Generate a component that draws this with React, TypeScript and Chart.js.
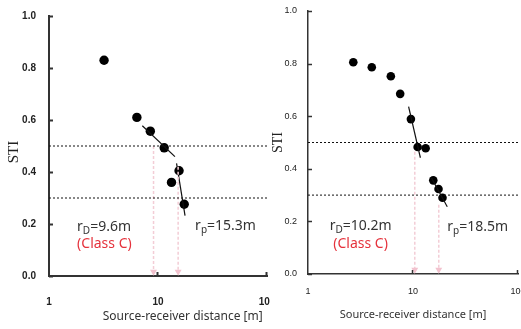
import React, { useEffect, useRef } from 'react';
import { Chart, registerables } from 'chart.js';

Chart.register(...registerables);

// ---------- data ----------
const yTickValues = [0, 0.2, 0.4, 0.6, 0.8, 1.0];
const xTickValues = [1, 10, 100];
const thresholds = [0.5, 0.3];

const leftDistance = [3.2, 6.4, 8.5, 11.4, 15.6, 13.3, 17.4];
const leftSTI = [0.83, 0.61, 0.557, 0.493, 0.405, 0.36, 0.276];
const leftFit1X = [7.18, 14.3];
const leftFit1Y = [0.578, 0.459];
const leftFit2X = [14.8, 17.7];
const leftFit2Y = [0.433, 0.232];
const leftArrowX = [9.1, 15.3];
const leftArrowTop = [0.5, 0.42];
const leftRD = '9.6';
const leftRP = '15.3';

const rightDistance = [2.7, 4.05, 6.15, 7.55, 9.55, 11.07, 13.2, 15.6, 17.5, 19.1];
const rightSTI = [0.805, 0.786, 0.752, 0.685, 0.589, 0.483, 0.478, 0.356, 0.323, 0.29];
const rightFit1X = [9.08, 11.76];
const rightFit1Y = [0.636, 0.442];
const rightFit2X = [15.0, 21.2];
const rightFit2Y = [0.365, 0.256];
const rightArrowX = [10.4, 17.6];
const rightArrowTop = [0.465, 0.263];
const rightRD = '10.2';
const rightRP = '18.5';

const xTitle = 'Source-receiver distance [m]';
const yTitle = 'STI';
const classLabel = '(Class C)';

// ---------- drawing helpers ----------
type Ann = { x: number; y: number };

function drawSubText(ctx: CanvasRenderingContext2D, px: number, py: number, sub: string, rest: string, size: number) {
  ctx.save();
  ctx.fillStyle = '#333';
  ctx.textBaseline = 'alphabetic';
  ctx.textAlign = 'left';
  ctx.font = `${size}px "Noto Sans"`;
  ctx.fillText('r', px, py);
  let x = px + ctx.measureText('r').width;
  ctx.font = `${Math.round(size * 0.72)}px "Noto Sans"`;
  ctx.fillText(sub, x, py + 3);
  x += ctx.measureText(sub).width;
  ctx.font = `${size}px "Noto Sans"`;
  ctx.fillText(rest, x, py);
  ctx.restore();
}

type PanelProps = {
  left: number;
  width: number;
  yAxisWidth: number;
  xAxisHeight: number;
  padTop: number;
  padRight: number;
  distance: number[];
  sti: number[];
  fits: { x: number[]; y: number[] }[];
  arrowX: number[];
  arrowTop: number[];
  rd: string;
  rp: string;
  rdPos: Ann;
  classPos: Ann;
  rpPos: Ann;
  pointRadius: number;
  bold: boolean;
  tickSize: number;
  yTickPad: number;
  xTickPad: number;
  borderWidth: number;
  customTitles: boolean;
  xTitleSize: number;
  xTitlePadBottom: number;
  leftTitleX?: number;
  leftTitleY?: number;
  leftYTitleX?: number;
  leftYTitleY?: number;
  yTitleSize: number;
  yTitlePad: number;
};

function Panel(p: PanelProps) {
  const ref = useRef<HTMLCanvasElement | null>(null);
  useEffect(() => {
    if (!ref.current) return;
    const datasets: any[] = [];
    thresholds.forEach((t) => {
      datasets.push({
        data: [{ x: 1, y: t }, { x: 100, y: t }],
        showLine: true,
        borderColor: '#111',
        borderWidth: 1,
        borderDash: [2, 2],
        pointRadius: 0,
      });
    });
    p.arrowX.forEach((ax, i) => {
      datasets.push({
        data: [{ x: ax, y: p.arrowTop[i] }, { x: ax, y: 0.016 }],
        showLine: true,
        borderColor: '#f3cdd6',
        borderWidth: 1.5,
        borderDash: [3, 2],
        pointRadius: [0, 4],
        pointStyle: 'triangle',
        rotation: 180,
        pointBackgroundColor: '#f2c2ce',
        pointBorderColor: '#f2c2ce',
        pointBorderWidth: 0,
        clip: false,
      });
    });
    p.fits.forEach((f) => {
      datasets.push({
        data: f.x.map((x, i) => ({ x, y: f.y[i] })),
        showLine: true,
        borderColor: '#111',
        borderWidth: 1.2,
        pointRadius: 0,
      });
    });
    datasets.push({
      data: p.distance.map((x, i) => ({ x, y: p.sti[i] })),
      showLine: false,
      backgroundColor: '#000',
      borderColor: '#000',
      borderWidth: 0,
      pointRadius: p.pointRadius,
    });

    const tickFont = { family: 'Liberation Sans', size: p.tickSize, weight: p.bold ? 'bold' : 'normal' };

    const overlay = {
      id: 'overlay',
      afterDraw(chart: any) {
        const ctx: CanvasRenderingContext2D = chart.ctx;
        const xs = chart.scales.x;
        const ys = chart.scales.y;
        const ca = chart.chartArea;
        ctx.save();
        ctx.strokeStyle = '#333';
        ctx.lineWidth = p.borderWidth;
        yTickValues.forEach((v) => {
          const py = Math.round(ys.getPixelForValue(v)) + 0.5;
          ctx.beginPath();
          ctx.moveTo(ca.left, py);
          ctx.lineTo(ca.left + 4, py);
          ctx.stroke();
        });
        xTickValues.slice(1).forEach((v) => {
          const px = Math.round(xs.getPixelForValue(v)) - 0.5;
          ctx.beginPath();
          ctx.moveTo(px, ca.bottom);
          ctx.lineTo(px, ca.bottom - 4);
          ctx.stroke();
        });
        ctx.restore();

        drawSubText(ctx, xs.getPixelForValue(p.rdPos.x), ys.getPixelForValue(p.rdPos.y), 'D', '=' + p.rd + 'm', 14);
        drawSubText(ctx, xs.getPixelForValue(p.rpPos.x), ys.getPixelForValue(p.rpPos.y), 'p', '=' + p.rp + 'm', 14);
        ctx.save();
        ctx.fillStyle = '#e5323c';
        ctx.font = '14px "Noto Sans"';
        ctx.textBaseline = 'alphabetic';
        ctx.fillText(classLabel, xs.getPixelForValue(p.classPos.x), ys.getPixelForValue(p.classPos.y));
        ctx.restore();

        if (p.customTitles) {
          ctx.save();
          ctx.fillStyle = '#333';
          ctx.font = `${p.xTitleSize}px "Noto Sans"`;
          ctx.textAlign = 'center';
          ctx.textBaseline = 'middle';
          ctx.fillText(xTitle, p.leftTitleX!, p.leftTitleY!);
          ctx.translate(p.leftYTitleX!, p.leftYTitleY!);
          ctx.rotate(-Math.PI / 2);
          ctx.font = `${p.yTitleSize}px "Liberation Serif"`;
          ctx.fillStyle = '#222';
          ctx.fillText(yTitle, 0, 0);
          ctx.restore();
        }
      },
    };

    const chart = new Chart(ref.current, {
      type: 'scatter',
      data: { datasets },
      plugins: [overlay],
      options: {
        animation: false,
        responsive: false,
        devicePixelRatio: 1,
        layout: { autoPadding: false, padding: { top: p.padTop, right: p.padRight, left: 0, bottom: 0 } },
        plugins: { legend: { display: false }, tooltip: { enabled: false } },
        scales: {
          x: {
            type: 'logarithmic',
            min: 1,
            max: 100,
            afterBuildTicks: (s: any) => {
              s.ticks = xTickValues.map((v) => ({ value: v }));
            },
            afterFit: (s: any) => {
              s.height = p.xAxisHeight;
              s.paddingLeft = 0;
              s.paddingRight = 0;
            },
            grid: { display: false, drawTicks: false },
            border: { display: true, color: '#333', width: p.borderWidth },
            ticks: {
              font: tickFont as any,
              color: '#222',
              padding: p.xTickPad,
              autoSkip: false,
              maxRotation: 0,
              callback: (v: any) => String(v),
            },
            title: {
              display: !p.customTitles,
              text: xTitle,
              color: '#333',
              font: { family: 'Noto Sans', size: p.xTitleSize },
              padding: { top: 0, bottom: p.xTitlePadBottom },
            },
          },
          y: {
            type: 'linear',
            min: 0,
            max: 1,
            afterBuildTicks: (s: any) => {
              s.ticks = yTickValues.map((v) => ({ value: v }));
            },
            afterFit: (s: any) => {
              s.width = p.yAxisWidth;
              s.paddingTop = 0;
              s.paddingBottom = 0;
            },
            grid: { display: false, drawTicks: false },
            border: { display: true, color: '#333', width: p.borderWidth },
            ticks: {
              font: tickFont as any,
              color: '#222',
              padding: p.yTickPad,
              callback: (v: any) => Number(v).toFixed(1),
            },
            title: {
              display: !p.customTitles,
              text: yTitle,
              color: '#222',
              font: { family: 'Liberation Serif', size: p.yTitleSize },
              padding: { top: p.yTitlePad, bottom: 0 },
            },
          },
        },
      } as any,
    });
    return () => chart.destroy();
  }, []);
  return (
    <canvas
      ref={ref}
      width={p.width}
      height={329}
      style={{ position: 'absolute', left: p.left, top: 0, width: p.width, height: 329 }}
    />
  );
}

export default function App() {
  return (
    <div style={{ position: 'fixed', left: 0, top: 0, width: 521, height: 329, background: '#fff', overflow: 'hidden' }}>
      <Panel
        left={0}
        width={270}
        yAxisWidth={49}
        xAxisHeight={53}
        padTop={16}
        padRight={3}
        distance={leftDistance}
        sti={leftSTI}
        fits={[{ x: leftFit1X, y: leftFit1Y }, { x: leftFit2X, y: leftFit2Y }]}
        arrowX={leftArrowX}
        arrowTop={leftArrowTop}
        rd={leftRD}
        rp={leftRP}
        rdPos={{ x: 1.81, y: 0.173 }}
        classPos={{ x: 1.81, y: 0.108 }}
        rpPos={{ x: 21.9, y: 0.177 }}
        pointRadius={4.7}
        bold={true}
        tickSize={10}
        yTickPad={13}
        xTickPad={20}
        borderWidth={2}
        customTitles={true}
        xTitleSize={12}
        xTitlePadBottom={0}
        leftTitleX={182.7}
        leftTitleY={317}
        leftYTitleX={14}
        leftYTitleY={152}
        yTitleSize={15}
        yTitlePad={0}
      />
      <Panel
        left={270}
        width={251}
        yAxisWidth={38}
        xAxisHeight={55}
        padTop={11}
        padRight={3}
        distance={rightDistance}
        sti={rightSTI}
        fits={[{ x: rightFit1X, y: rightFit1Y }, { x: rightFit2X, y: rightFit2Y }]}
        arrowX={rightArrowX}
        arrowTop={rightArrowTop}
        rd={rightRD}
        rp={rightRP}
        rdPos={{ x: 1.61, y: 0.168 }}
        classPos={{ x: 1.74, y: 0.1 }}
        rpPos={{ x: 21.2, y: 0.164 }}
        pointRadius={4.3}
        bold={false}
        tickSize={9}
        yTickPad={11}
        xTickPad={12}
        borderWidth={1.5}
        customTitles={false}
        xTitleSize={11}
        xTitlePadBottom={8}
        yTitleSize={14}
        yTitlePad={0}
      />
    </div>
  );
}
